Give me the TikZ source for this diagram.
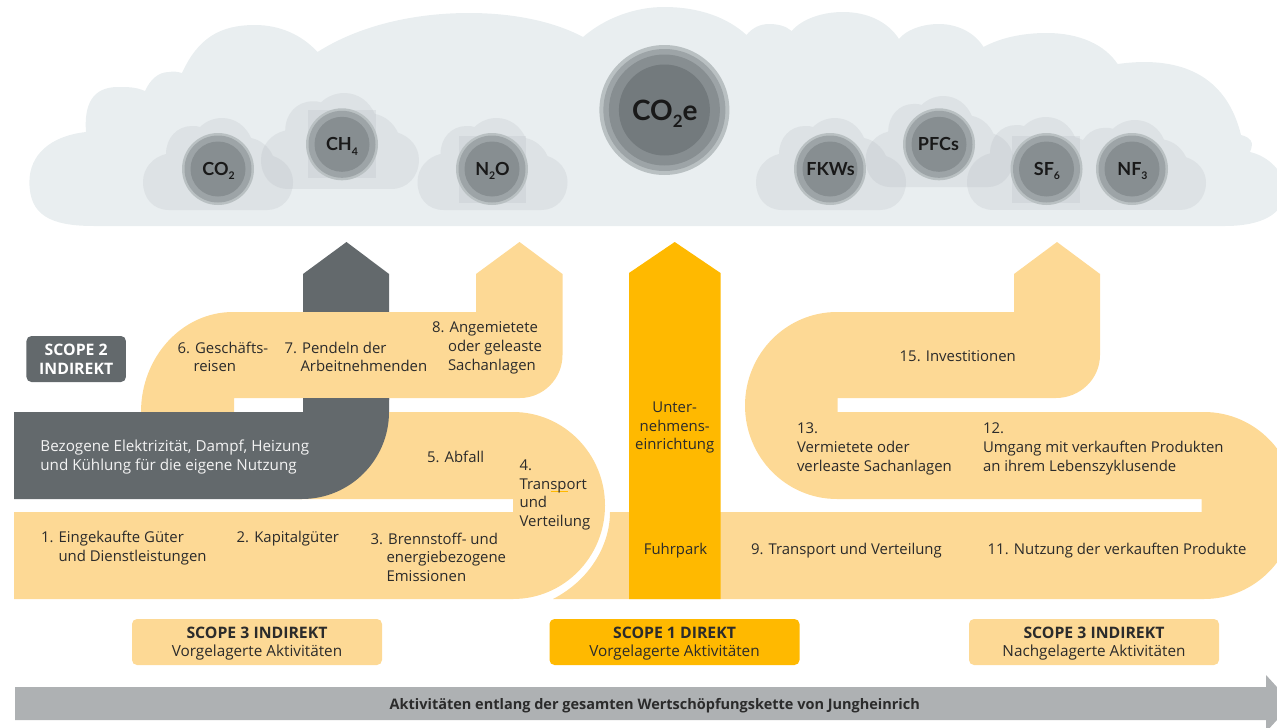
\documentclass[tikz,border=0pt]{standalone}
\usepackage{fontspec}
\setmainfont{Open Sans}
\newfontfamily\gasfont{Lato}
\definecolor{cloudbg}{HTML}{E9EEF0}
\definecolor{cloudfg}{HTML}{ADB2B9}
\definecolor{sand}{HTML}{FDD995}
\definecolor{amberx}{HTML}{FFB900}
\definecolor{slatex}{HTML}{63696C}
\definecolor{barx}{HTML}{AEB1B3}
\definecolor{inkx}{HTML}{2B2B2B}
\definecolor{gasa}{HTML}{B9C0C2}
\definecolor{gasb}{HTML}{9DA4A7}
\definecolor{gasc}{HTML}{878E91}
\definecolor{gasd}{HTML}{737A7D}
\newcommand{\bodysize}{\fontsize{14.9}{18.6}\selectfont}
\newcommand{\headsize}{\fontsize{15.8}{18.8}\selectfont\bfseries}
\newcommand{\gsub}[1]{\raisebox{-4.5pt}{\fontsize{10.5}{10.5}\selectfont #1}}
\newcommand{\bsub}[1]{\raisebox{-7pt}{\fontsize{17}{17}\selectfont #1}}
\tikzset{
  x=1pt,y=-1pt,
  txt/.style={inner sep=0pt,outer sep=0pt,text=inkx,font=\bodysize,align=left,anchor=west,yshift=-.8pt},
  ctxt/.style={inner sep=0pt,outer sep=0pt,text=inkx,font=\bodysize,align=center,anchor=center,yshift=-.5pt},
  gas/.style={inner sep=0pt,outer sep=0pt,text=black!90,font=\gasfont\fontsize{18}{20}\selectfont\bfseries},
  gassub/.style={gas,yshift=-2pt},
  smallcloud/.pic={
    \fill (26,92) .. controls (10,92) and (0,80) .. (0,64)
      .. controls (0,50) and (10,39) .. (23,36)
      .. controls (23,20) and (34,8) .. (49,8)
      .. controls (52,8) and (55,8) .. (57,9)
      .. controls (62,4) and (70,0) .. (79,0)
      .. controls (92,0) and (103,8) .. (108,20)
      .. controls (118,22) and (126,29) .. (130,38)
      .. controls (142,42) and (150,52) .. (150,64)
      .. controls (150,80) and (139,92) .. (124,92) -- cycle;
  },
  minifill/.style={fill=cloudfg,fill opacity=.2},
  scopebox/.style={rounded corners=5pt,minimum width=250pt,minimum height=46pt,inner sep=0pt},
  square/.style={fill=cloudfg,fill opacity=.2}
}
\begin{document}
\begin{tikzpicture}
\useasboundingbox (0,0) rectangle (1277,728);
\clip (0,0) rectangle (1277,728);
% big cloud
\fill[cloudbg] (94,226) .. controls (50,226) and (29.4,215) .. (29.4,182)
 .. controls (29.4,155) and (50,136) .. (86,132)
 .. controls (84,105) and (92,87) .. (118,87)
 .. controls (128,87) and (136,87) .. (145,91)
 .. controls (150,80) and (158,72) .. (169,72)
 .. controls (174,71) and (178,72) .. (182,73)
 .. controls (198,38) and (220,25) .. (255,25)
 .. controls (280,25) and (302,35) .. (317.5,52)
 .. controls (360,25) and (415,13) .. (469,13)
 .. controls (515,13) and (555,22) .. (583,37)
 .. controls (605,18) and (635,7) .. (664,7)
 .. controls (700,7) and (728,18) .. (746.5,35)
 .. controls (752,28) and (760,24) .. (769,24)
 .. controls (778,24) and (786,26) .. (791.6,31)
 .. controls (802,19) and (822,12) .. (843,12)
 .. controls (868,12) and (888,22) .. (899,39)
 .. controls (906,30) and (922,24) .. (939,24)
 .. controls (958,24) and (975,33) .. (983.5,47)
 .. controls (1000,38) and (1022,33) .. (1046.5,33)
 .. controls (1080,33) and (1105,45) .. (1117.6,64)
 .. controls (1125,63) and (1135,62) .. (1144,62)
 .. controls (1200,62) and (1230,90) .. (1241,135)
 .. controls (1246,136) and (1251,139) .. (1251.8,143)
 .. controls (1252,147) and (1251,150) .. (1250,152)
 .. controls (1268,156) and (1285,172) .. (1285,190)
 .. controls (1285,215) and (1260,226) .. (1225,226) -- cycle;
% small clouds
\path[minifill] (143,118) pic {smallcloud};
\path[minifill] (261,93) pic[xscale=1.053,yscale=1.043] {smallcloud};
\path[minifill] (417.5,118) pic {smallcloud};
\path[minifill] (756,118) pic {smallcloud};
\path[minifill] (865.6,96) pic[xscale=.983,yscale=.99] {smallcloud};
\begin{scope}[transparency group,opacity=.2]
 \path[fill=cloudfg] (967,117) pic[yscale=1.01] {smallcloud};
 \path[fill=cloudfg] (1056,120) pic[yscale=.978] {smallcloud};
\end{scope}
% squares behind circles
\fill[square] (308,110) rectangle (375.5,178);
\fill[square] (459,136) rectangle (526,203);
\fill[square] (1012,136) rectangle (1080,203);
% gas circles
\foreach \cx/\cy in {218/169,342/144.3,492/169,830/169,939/144.3,1046.5/169,1132/169}{
  \fill[gasa] (\cx,\cy) circle[radius=36];
  \fill[gasb] (\cx,\cy) circle[radius=33.5];
  \fill[gasc] (\cx,\cy) circle[radius=27.5];
}
\fill[gasa] (664.4,110) circle[radius=65];
\fill[gasb] (664.4,110) circle[radius=61];
\fill[gasc] (664.4,110) circle[radius=55.5];
\fill[gasd] (664.4,110) circle[radius=45.5];
\node[gassub] (co2) at (218.5,169) {CO\gsub{2}};
\node[gassub] (ch4) at (342,144.3) {CH\gsub{4}};
\node[gassub] (n2o) at (492.5,169) {N\gsub{2}O};
\node[gas,yshift=-4pt] (co2e) at (664.8,110) {\fontsize{28}{30}\selectfont CO\bsub{2}e};
\node[gas] (fkws) at (830.5,169) {FKWs};
\node[gas] (pfcs) at (938.5,144.3) {PFCs};
\node[gassub] (sf6) at (1047,169) {SF\gsub{6}};
\node[gassub] (nf3) at (1132.5,169) {NF\gsub{3}};
% grey arrow body
\fill[slatex] (303,400) -- (303,274) -- (346.5,242) -- (389,274) -- (389,400) -- cycle;
% left sand bands
\fill[sand] (14,512) -- (513,512) -- (513,499) -- (290,499) -- (290,412) -- (513,412)
 .. controls (563.8,412) and (605,453.9) .. (605,505.5)
 .. controls (605,557.1) and (563.8,599) .. (513,599) -- (14,599) -- cycle;
\fill[sand] (141,412) .. controls (141,357) and (182,312) .. (233,312) -- (476,312) -- (476,274)
 -- (519.5,242) -- (562.5,274) -- (562.5,355)
 .. controls (562.5,379) and (543,398) .. (520,398) -- (234,398) -- (234,412) -- cycle;
% scope 2 band
\fill[slatex] (14,412) -- (303,412) -- (303,398) -- (389,398) -- (389,412)
 .. controls (389,460) and (350,499) .. (302,499) -- (14,499) -- cycle;
% right sand band
\fill[sand] (610,512) -- (1201.5,512) -- (1201.5,499) -- (837,499)
 .. controls (786,499) and (745,457) .. (745,405.5)
 .. controls (745,354) and (786,312) .. (837,312) -- (1014,312) -- (1014,274)
 -- (1057,242) -- (1100,274) -- (1100,355)
 .. controls (1100,379) and (1080,398) .. (1056,398) -- (837.5,398) -- (837.5,412) -- (1204,412)
 .. controls (1255,412) and (1296,453.9) .. (1296,505.5)
 .. controls (1296,557.1) and (1255,599) .. (1204,599) -- (553,599)
 .. controls (590,580) and (610,545) .. (610,512) -- cycle;
% scope 1 arrow
\fill[amberx] (629,599) -- (629,273) -- (674.7,242) -- (720.5,273) -- (720.5,599) -- cycle;
\draw[amberx,line width=.8pt] (551,491.5) -- (568,491.5);
% scope boxes
\node[scopebox,fill=slatex,minimum width=99.5pt] (s2box) at (76.2,359) {};
\node[inner sep=0pt,text=white,font=\headsize,align=center] (s2txt) at (76.2,359) {SCOPE 2\\INDIREKT};
\node[scopebox,fill=sand] (b1) at (257,642) {};
\node[scopebox,fill=amberx] (b2) at (674.5,642) {};
\node[scopebox,fill=sand] (b3) at (1094,642) {};
\node[ctxt,font=\headsize] (b1a) at (257,632.4) {SCOPE 3 INDIREKT};
\node[ctxt,font=\fontsize{15.3}{18}\selectfont] (b1b) at (257,652.4) {Vorgelagerte Aktivitäten};
\node[ctxt,font=\headsize] (b2a) at (674.5,632.4) {SCOPE 1 DIREKT};
\node[ctxt,font=\fontsize{15.3}{18}\selectfont] (b2b) at (674.5,652.4) {Vorgelagerte Aktivitäten};
\node[ctxt,font=\headsize] (b3a) at (1094,632.4) {SCOPE 3 INDIREKT};
\node[ctxt,font=\fontsize{15.3}{18}\selectfont] (b3b) at (1094,652.4) {Nachgelagerte Aktivitäten};
% bottom arrow
\fill[barx] (15,687) -- (1266,687) -- (1266,675) -- (1292,703.5) -- (1266,732) -- (1266,720) -- (15,720) -- cycle;
\node[ctxt,font=\fontsize{14.5}{16}\selectfont\bfseries] (chain) at (654.8,704.8) {Aktivitäten entlang der gesamten Wertschöpfungskette von Jungheinrich};
% texts
\node[txt] (t6) at (177.5,356) {6. Geschäfts-\\\hspace*{16pt}reisen};
\node[txt] (t7) at (284.5,356) {7. Pendeln der\\\hspace*{16pt}Arbeitnehmenden};
\node[txt] (t8) at (432,347) {8. Angemietete\\\hspace*{16pt}oder geleaste\\\hspace*{16pt}Sachanlagen};
\node[txt] (t5) at (427,455.7) {5. Abfall};
\node[txt] (t4) at (519.6,494) {4.\\Transport\\und\\Verteilung};
\node[txt,text=white!92!slatex,font=\fontsize{15.2}{19}\selectfont] (tb) at (40.4,456.3) {Bezogene Elektrizität, Dampf, Heizung\\und Kühlung für die eigene Nutzung};
\node[txt] (t1) at (41,547) {1. Eingekaufte Güter\\\hspace*{17.5pt}und Dienstleistungen};
\node[txt] (t2) at (236.7,537.7) {2. Kapitalgüter};
\node[txt] (t3) at (370.6,556.5) {3. Brennstoff- und\\\hspace*{16pt}energiebezogene\\\hspace*{16pt}Emissionen};
\node[ctxt] (tu) at (674.7,427) {Unter-\\nehmens-\\einrichtung};
\node[ctxt] (tf) at (675.5,550) {Fuhrpark};
\node[txt] (t9) at (751,550) {9. Transport und Verteilung};
\node[txt] (t11) at (987.7,550) {11. Nutzung der verkauften Produkte};
\node[txt] (t13) at (797,448) {13.\\Vermietete oder\\verleaste Sachanlagen};
\node[txt] (t12) at (983,448) {12.\\Umgang mit verkauften Produkten\\an ihrem Lebenszyklusende};
\node[txt] (t15) at (899.7,355.7) {15. Investitionen};
\end{tikzpicture}
\end{document}
